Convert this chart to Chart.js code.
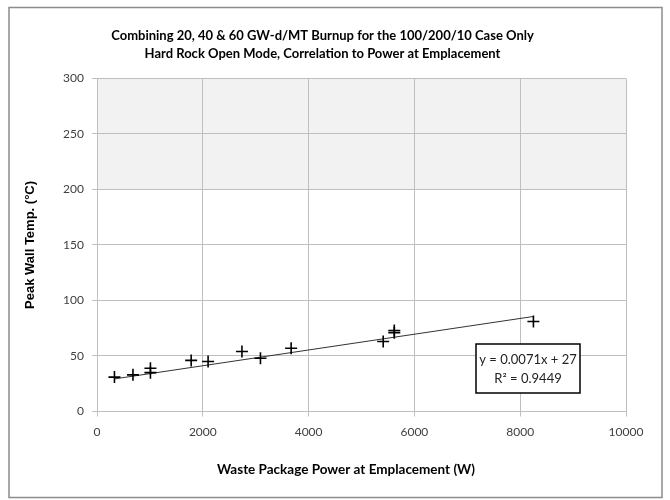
<!DOCTYPE html>
<html>
<head>
<meta charset="utf-8">
<title>Peak Wall Temperature vs Waste Package Power</title>
<script src="https://cdn.jsdelivr.net/npm/chart.js@4.4.1/dist/chart.umd.min.js"></script>
<style>
  html, body { margin: 0; padding: 0; background: #fff; }
  #wrap { width: 670px; height: 500px; }
</style>
</head>
<body>
<div id="wrap"><canvas id="myChart" width="670" height="500"></canvas></div>
<script>
'use strict';

// waste package power at emplacement (W) and peak wall temperature (C)
let power = [330, 680, 1010, 1010, 1780, 2100, 2740, 3090, 3670, 5410, 5620, 5620, 8250];
let wallTemp = [31, 33, 39, 35, 46, 45, 54, 48, 57, 63, 73, 71, 81];

// linear fit reported on the chart
let slope = 0.0071;
let intercept = 27;
let fitLabels = ['y = 0.0071x + 27', 'R\u00b2 = 0.9449'];

let xTicks = [0, 2000, 4000, 6000, 8000, 10000];
let yTicks = [0, 50, 100, 150, 200, 250, 300];

let titleLines = [
  'Combining 20, 40 & 60 GW-d/MT Burnup for the 100/200/10 Case Only',
  'Hard Rock Open Mode, Correlation to Power at Emplacement'
];
let xAxisTitle = 'Waste Package Power at Emplacement (W)';

const font = 'Lato';

let points = [];
for (let i = 0; i < power.length; i++) {
  points.push({ x: power[i], y: wallTemp[i] });
}

let xMin = Math.min(...power);
let xMax = Math.max(...power);
let trendLine = [
  { x: xMin, y: slope * xMin + intercept },
  { x: xMax, y: slope * xMax + intercept },
];

// white page, outer frame and the grey band above 200
const backdrop = {
  id: 'backdrop',
  beforeDraw(chart) {
    let ctx = chart.ctx;
    let area = chart.chartArea;
    let y = chart.scales.y;
    ctx.save();
    ctx.fillStyle = '#fff';
    ctx.fillRect(0, 0, chart.width, chart.height);
    ctx.strokeStyle = '#8c8c8c';
    ctx.lineWidth = 1.5;
    ctx.strokeRect(9, 7.5, 653, 490);
    ctx.fillStyle = '#f2f2f2';
    let top = y.getPixelForValue(300);
    let bottom = y.getPixelForValue(200);
    ctx.fillRect(area.left, top, area.right - area.left, bottom - top);
    ctx.restore();
  }
};

// boxed trendline equation, plus the x axis title centred on the page
const annotations = {
  id: 'annotations',
  afterDatasetsDraw(chart) {
    let ctx = chart.ctx;
    let area = chart.chartArea;
    let left = area.right - 150;
    let top = 344;
    let w = 104;
    let h = 49;
    ctx.save();
    ctx.fillStyle = '#fff';
    ctx.fillRect(left, top, w, h);
    ctx.strokeStyle = '#000';
    ctx.lineWidth = 1.5;
    ctx.strokeRect(left, top, w, h);
    ctx.fillStyle = '#222';
    ctx.font = '13px ' + font;
    ctx.textAlign = 'center';
    ctx.textBaseline = 'middle';
    ctx.fillText(fitLabels[0], left + w / 2, top + 16);
    ctx.fillText(fitLabels[1], left + w / 2, top + 35);

    ctx.fillStyle = '#000';
    ctx.font = 'bold 13.5px ' + font;
    ctx.fillText(xAxisTitle, 346, 470);
    ctx.restore();
  }
};

const chartData = {
  datasets: [
    {
      label: 'Peak wall temperature',
      data: points,
      showLine: false,
      pointStyle: 'cross',
      pointRadius: 6,
      pointHoverRadius: 6,
      borderColor: '#000',
      borderWidth: 1.6,
      order: 1,
    },
    {
      label: 'Linear fit',
      type: 'line',
      data: trendLine,
      borderColor: '#333',
      borderWidth: 1,
      pointRadius: 0,
      fill: false,
      order: 2,
    },
  ],
};

const config = {
  type: 'scatter',
  data: chartData,
  options: {
    responsive: false,
    animation: false,
    devicePixelRatio: 1,
    layout: {
      padding: { left: 19, right: 44, top: 0, bottom: 17 },
    },
    plugins: {
      legend: { display: false },
      tooltip: { enabled: false },
      title: {
        display: true,
        text: titleLines,
        color: '#000',
        font: { family: font, size: 13, weight: 'bold', lineHeight: 1.4 },
        padding: { top: 27, bottom: 15 },
      },
    },
    scales: {
      x: {
        type: 'linear',
        min: 0,
        max: 10000,
        afterBuildTicks(scale) {
          scale.ticks = xTicks.map(v => ({ value: v }));
        },
        afterFit(scale) {
          scale.height = 71.5;
        },
        grid: { color: '#bfbfbf', lineWidth: 1, tickLength: 5 },
        border: { color: '#bfbfbf' },
        ticks: {
          color: '#404040',
          padding: 8,
          font: { family: font, size: 12 },
          callback: v => String(v),
        },
      },
      y: {
        type: 'linear',
        min: 0,
        max: 300,
        afterBuildTicks(scale) {
          scale.ticks = yTicks.map(v => ({ value: v }));
        },
        afterFit(scale) {
          scale.width = 78;
        },
        grid: { color: '#bfbfbf', lineWidth: 1, tickLength: 5 },
        border: { color: '#bfbfbf' },
        ticks: {
          color: '#404040',
          padding: 8,
          font: { family: font, size: 12 },
          callback: v => String(v),
        },
        title: {
          display: true,
          text: 'Peak Wall Temp. (\u00b0C)',
          color: '#000',
          font: { family: 'Liberation Sans', size: 13, weight: 'bold' },
        },
      },
    },
  },
  plugins: [backdrop, annotations],
};

let chartCanvas = document.getElementById('myChart').getContext('2d');
const myChart = new Chart(chartCanvas, config);
</script>
</body>
</html>
